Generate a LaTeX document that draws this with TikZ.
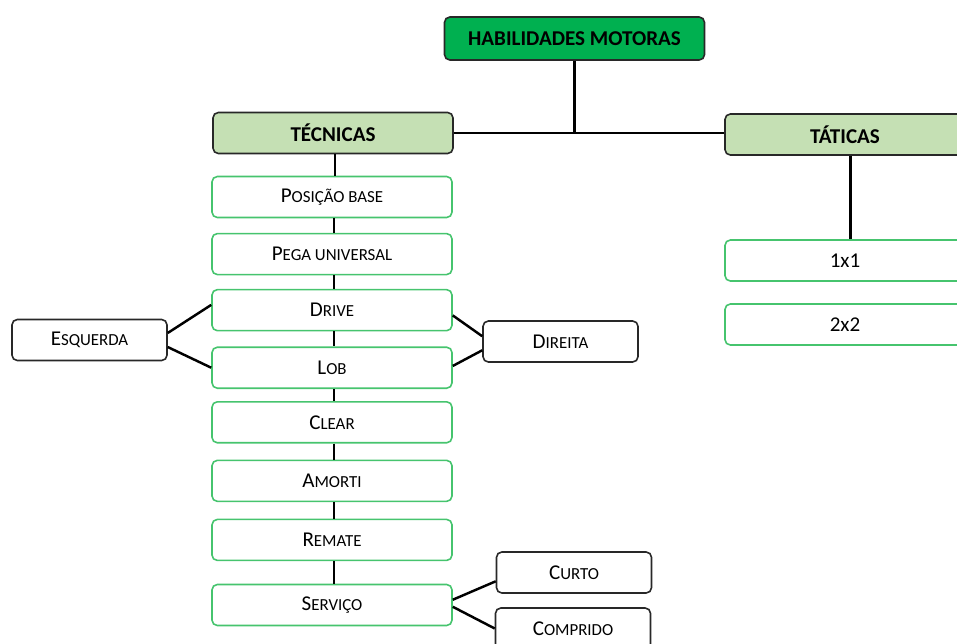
\documentclass[tikz,border=0pt]{standalone}
\usepackage{fontspec}
\setmainfont{Carlito}
\usetikzlibrary{positioning}
\definecolor{topgreen}{RGB}{0,176,80}
\definecolor{headgreen}{RGB}{197,224,180}
\definecolor{itemgreen}{RGB}{70,196,110}
\definecolor{boxline}{RGB}{40,40,40}
\newcommand\smcap[2]{#1{\fontsize{9.6}{11}\selectfont #2}}

\begin{document}
\begin{tikzpicture}[
  x=0.02cm, y=-0.02cm,
  box/.style={rectangle, rounded corners=3pt, align=center, line width=0.9pt,
              minimum height=0.82cm, inner sep=1pt, font=\fontsize{12}{14}\selectfont},
  topbox/.style={box, draw=boxline, fill=topgreen, minimum width=5.2cm,
                 minimum height=0.86cm, font=\bfseries\fontsize{12}{14}\selectfont},
  headbox/.style={box, draw=boxline, fill=headgreen, minimum width=4.8cm,
                  font=\bfseries\fontsize{12}{14}\selectfont},
  itembox/.style={box, draw=itemgreen, fill=white, minimum width=4.8cm},
  sidebox/.style={box, draw=boxline, fill=white, minimum width=3.1cm},
  link/.style={line width=1.4pt, black},
  node distance=0.28cm
]
\useasboundingbox (0,0) rectangle (957,643);
\begin{scope}
\clip (0,0) rectangle (957,643);
% top and headings
\node[topbox] (motoras) at (574.5,38.5) {HABILIDADES MOTORAS};
\node[headbox] (tecnicas) at (333,133) {TÉCNICAS};
\node[headbox] (taticas) at (845,134.5) {TÁTICAS};
% techniques column
\node[itembox] (posicao) at (332,197) {\smcap{P}{OSIÇÃO BASE}};
\node[itembox, below=0.29cm of posicao] (pega) {\smcap{P}{EGA UNIVERSAL}};
\node[itembox, below=0.27cm of pega] (drive) {\smcap{D}{RIVE}};
\node[itembox, below=0.30cm of drive] (lob) {\smcap{L}{OB}};
\node[itembox, below=0.24cm of lob] (clear) {\smcap{C}{LEAR}};
\node[itembox, below=0.32cm of clear] (amorti) {\smcap{A}{MORTI}};
\node[itembox, below=0.33cm of amorti] (remate) {\smcap{R}{EMATE}};
\node[itembox, below=0.45cm of remate] (servico) {\smcap{S}{ERVIÇO}};
% side options
\node[sidebox] (esquerda) at (89.5,340) {\smcap{E}{SQUERDA}};
\node[sidebox] (direita) at (560.5,341.5) {\smcap{D}{IREITA}};
\node[sidebox] (curto) at (574,572.5) {\smcap{C}{URTO}};
\node[sidebox] (comprido) at (573,628.5) {\smcap{C}{OMPRIDO}};
% tactics
\node[itembox] (umxum) at (845,260.5) {1x1};
\node[itembox] (doisxdois) at (845,324.5) {2x2};
% connectors
\coordinate (joint) at (motoras.south |- tecnicas.east);
\draw[link] (motoras.south) -- (joint);
\draw[link] (tecnicas.east) -- (taticas.west |- tecnicas.east);
\draw[link] ([xshift=1pt]tecnicas.south) -- ([xshift=1pt]tecnicas.south |- posicao.north);
\draw[link] ([xshift=1pt]posicao.south) -- ([xshift=1pt]pega.north);
\draw[link] ([xshift=1pt]pega.south) -- ([xshift=1pt]drive.north);
\draw[link] ([xshift=1pt]drive.south) -- ([xshift=1pt]lob.north);
\draw[link] ([xshift=1pt]lob.south) -- ([xshift=1pt]clear.north);
\draw[link] ([xshift=1pt]clear.south) -- ([xshift=1pt]amorti.north);
\draw[link] ([xshift=1pt]amorti.south) -- ([xshift=1pt]remate.north);
\draw[link] ([xshift=1pt]remate.south) -- ([xshift=1pt]servico.north);
\draw[link] ([xshift=3pt]taticas.south) -- ([xshift=3pt]umxum.north);
\draw[link] ([yshift=4pt]esquerda.east) -- ([yshift=3pt]drive.west);
\draw[link] ([yshift=-4pt]esquerda.east) -- ([yshift=0pt]lob.west);
\draw[link] ([yshift=-3pt]drive.east) -- ([yshift=3pt]direita.west);
\draw[link] ([yshift=1pt]lob.east) -- ([yshift=-5pt]direita.west);
\draw[link] ([yshift=3pt]servico.east) -- ([yshift=-5pt]curto.west);
\draw[link] ([yshift=-1pt]servico.east) -- ([yshift=0pt]comprido.west);
\end{scope}
\end{tikzpicture}
\end{document}
